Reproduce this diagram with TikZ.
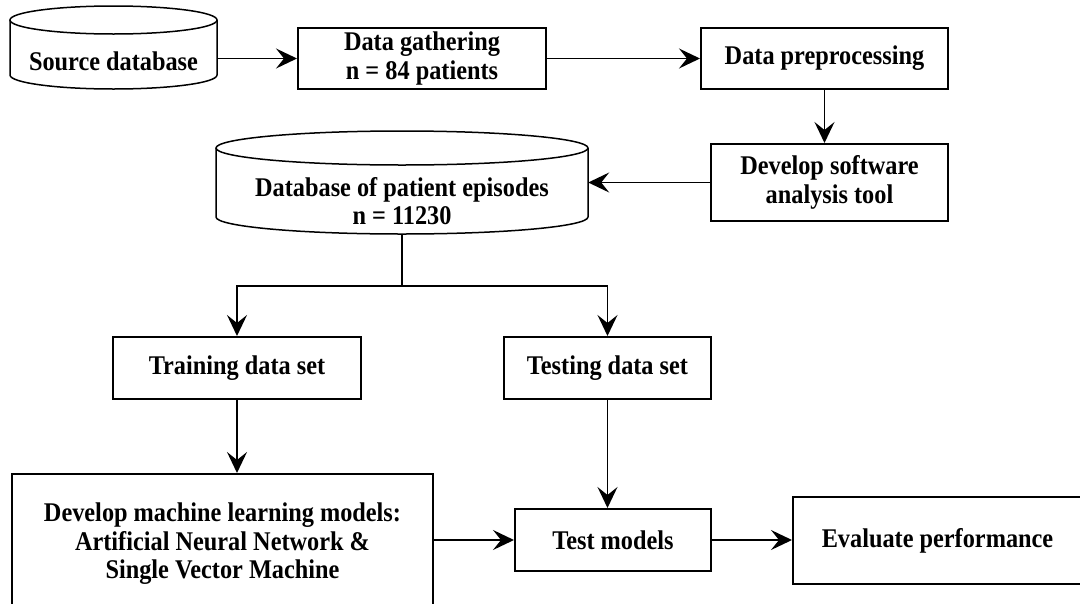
\documentclass[tikz,border=0pt]{standalone}
\usepackage{fontspec}
\setmainfont{Liberation Serif}[FakeStretch=0.9]
\usetikzlibrary{arrows.meta}

\tikzset{
  flowbox/.style={draw, line width=2pt, rectangle, inner sep=0pt, align=center,
    font=\bfseries\fontsize{27}{28.5}\selectfont},
  cylarea/.style={rectangle, inner sep=0pt},
  cyltext/.style={inner sep=0pt, align=center,
    font=\bfseries\fontsize{27}{28.5}\selectfont},
  cylline/.style={line width=1.5pt},
  link/.style={line width=1.6pt, -{Stealth[length=21pt,width=20pt,inset=8pt]}},
  plainlink/.style={line width=1.6pt}
}

\begin{document}
\begin{tikzpicture}[x=1pt,y=1pt]
  \useasboundingbox (0,0) rectangle (1080,-603);
  \clip (0,0) rectangle (1080,-603);
  \fill[white] (0,0) rectangle (1080,-603);

  % source database cylinder
  \node[cylarea, minimum width=207pt, minimum height=83pt] (src) at (113.5,-47.5) {};
  \draw[cylline] (113.5,-20) ellipse [x radius=103.5, y radius=14];
  \draw[cylline] (10,-20) -- (10,-75)
    arc[start angle=180, end angle=360, x radius=103.5, y radius=14] -- (217,-20);
  \node[cyltext] (srctext) at (113.5,-61) {Source database};

  % top row of boxes
  \node[flowbox, minimum width=248pt, minimum height=61pt] (gath) at (422,-58.5)
    {Data gathering\\n = 84 patients};
  \node[flowbox, minimum width=247pt, minimum height=61pt] (prep) at (824.5,-58.5)
    {Data preprocessing};
  \node[flowbox, minimum width=237pt, minimum height=77pt] (soft) at (829.5,-182.5)
    {Develop software\\analysis tool};

  % patient episode database cylinder
  \node[cylarea, minimum width=372pt, minimum height=103pt] (db) at (402,-182.5) {};
  \draw[cylline] (402,-148) ellipse [x radius=186, y radius=17];
  \draw[cylline] (216,-148) -- (216,-217)
    arc[start angle=180, end angle=360, x radius=186, y radius=17] -- (588,-148);
  \node[cyltext] (dbtext) at (402,-201) {Database of patient episodes\\n = 11230};

  % data split
  \node[flowbox, minimum width=248pt, minimum height=62pt] (train) at (237,-368)
    {Training data set};
  \node[flowbox, minimum width=207pt, minimum height=62pt] (testset) at (607.5,-368)
    {Testing data set};

  % modelling and evaluation
  \node[flowbox, minimum width=421pt, minimum height=140pt] (dev) at (222.5,-544)
    {Develop machine learning models:\\Artificial Neural Network \&\\Single Vector Machine};
  \node[flowbox, minimum width=196pt, minimum height=62pt] (test) at (613,-540)
    {Test models};
  \node[flowbox, minimum width=289pt, minimum height=87pt] (eval) at (937.5,-540.5)
    {Evaluate performance};

  \coordinate (split) at (402,-286);

  % connectors
  \draw[link] (src.east |- gath.west) -- (gath.west);
  \draw[link] (gath.east) -- (prep.west);
  \draw[link] (prep.south) -- (prep.south |- soft.north);
  \draw[link] (soft.west) -- (soft.west -| db.east);
  \draw[plainlink] (db.south) -- (split);
  \draw[link] (split) -| (train.north);
  \draw[link] (split) -| (testset.north);
  \draw[link] (train.south) -- (train.south |- dev.north);
  \draw[link] (testset.south) -- (testset.south |- test.north);
  \draw[link] (dev.east |- test.west) -- (test.west);
  \draw[link] (test.east) -- (test.east -| eval.west);
\end{tikzpicture}
\end{document}
